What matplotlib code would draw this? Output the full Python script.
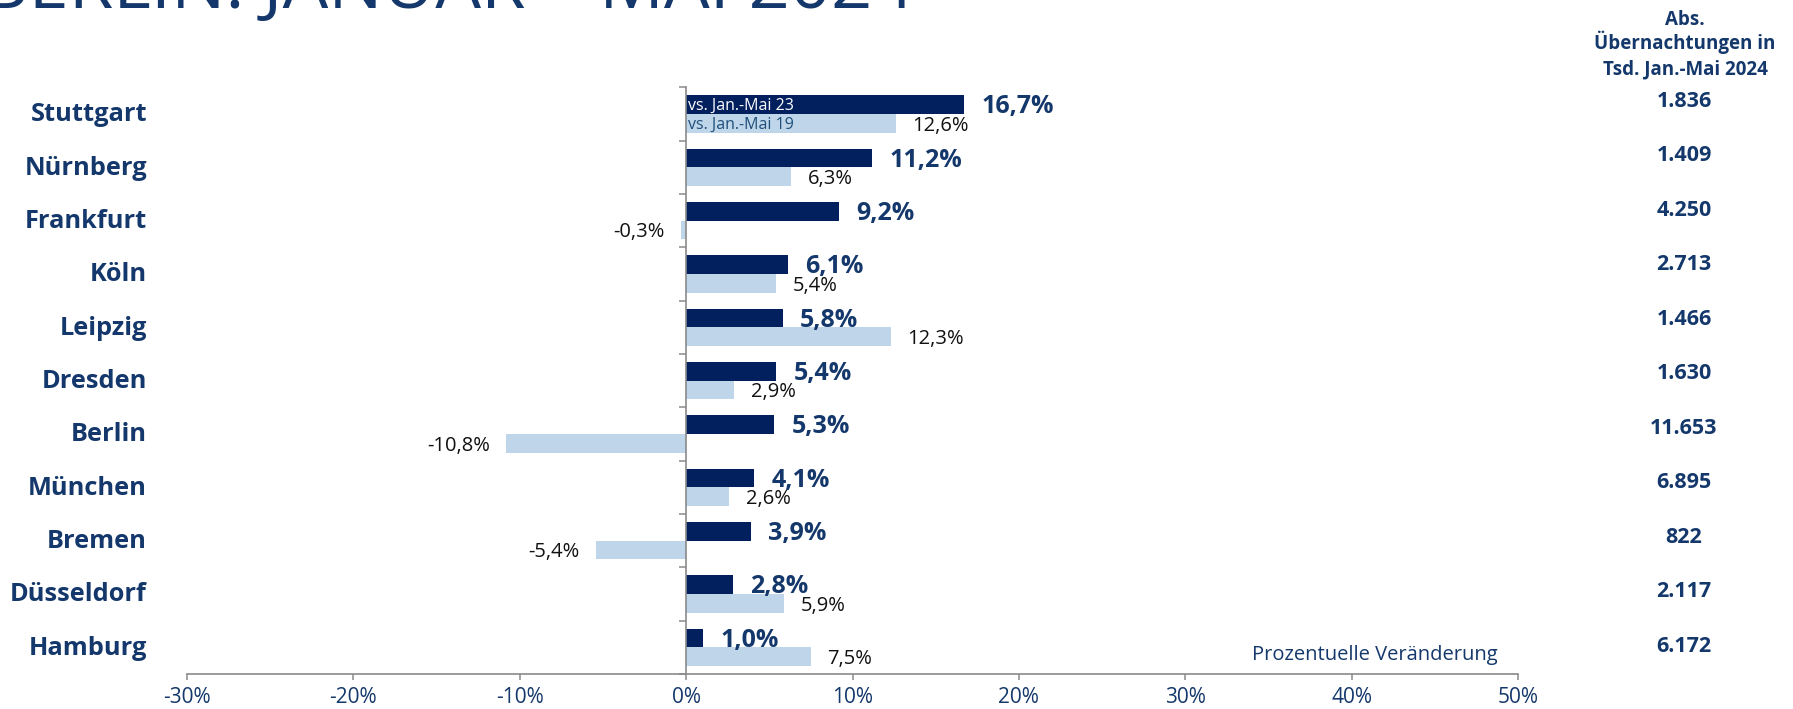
import numpy as np
import matplotlib
matplotlib.use("Agg")
import matplotlib.pyplot as plt
import matplotlib.transforms as mtransforms

plt.rcParams['font.family'] = ['Open Sans', 'DejaVu Sans']

# --- data ---
cities = ['Stuttgart', 'Nürnberg', 'Frankfurt', 'Köln', 'Leipzig', 'Dresden',
          'Berlin', 'München', 'Bremen', 'Düsseldorf', 'Hamburg']
vs_23 = [16.7, 11.2, 9.2, 6.1, 5.8, 5.4, 5.3, 4.1, 3.9, 2.8, 1.0]
vs_19 = [12.6, 6.3, -0.3, 5.4, 12.3, 2.9, -10.8, 2.6, -5.4, 5.9, 7.5]
abs_nights = ['1.836', '1.409', '4.250', '2.713', '1.466', '1.630',
              '11.653', '6.895', '822', '2.117', '6.172']
x_ticks = [-30, -20, -10, 0, 10, 20, 30, 40, 50]

DARK = '#021F5E'
LIGHT = '#BFD6EA'
NAVY = '#14386B'
GREY = '#8A8A8A'

W, H = 1793, 709


def pct(v):
    return f"{v:.1f}%".replace('.', ',')


fig = plt.figure(figsize=(W / 100, H / 100), dpi=100)
ax = fig.add_axes([187 / W, 1 - 674 / H, (1518 - 187) / W, (674 - 87.3) / H])

y = np.arange(len(cities))
h = 0.35
ax.barh(y - h / 2, vs_23, height=h, color=DARK)
ax.barh(y + h / 2, vs_19, height=h, color=LIGHT)

ax.set_xlim(-30, 50)
ax.set_ylim(len(cities) - 0.5, -0.5)

for s in ['top', 'right']:
    ax.spines[s].set_visible(False)
ax.spines['left'].set_position(('data', 0))
for s in ['left', 'bottom']:
    ax.spines[s].set_color(GREY)
    ax.spines[s].set_linewidth(1.2)

ax.set_yticks(np.arange(-0.5, len(cities), 1))
ax.set_yticklabels([])
ax.tick_params(axis='y', length=5, width=1.1, color=GREY, direction='out')
ax.set_xticks(x_ticks)
ax.set_xticklabels([f"{t}%" for t in x_ticks])
ax.tick_params(axis='x', length=4.5, width=1.1, color=GREY, pad=5,
               labelsize=15, labelcolor=NAVY)

# city names on the left
tr_city = mtransforms.blended_transform_factory(fig.transFigure, ax.transData)
for i, c in enumerate(cities):
    ax.annotate(c, xy=(147 / W, i), xycoords=tr_city, xytext=(0, -5.4),
                textcoords='offset points', ha='right', va='baseline',
                fontsize=18.3, fontweight='bold', color=NAVY)

# data labels
for i, (a, b) in enumerate(zip(vs_23, vs_19)):
    ax.annotate(pct(a), xy=(a, i - h / 2), xytext=(12.5, -6.2),
                textcoords='offset points', ha='left', va='baseline',
                fontsize=18, fontweight='bold', color=NAVY)
    if b >= 0:
        ax.annotate(pct(b), xy=(b, i + h / 2), xytext=(12, -5.2),
                    textcoords='offset points', ha='left', va='baseline',
                    fontsize=14.5, color='#111111')
    else:
        ax.annotate(pct(b), xy=(b, i + h / 2), xytext=(-12, -5.2),
                    textcoords='offset points', ha='right', va='baseline',
                    fontsize=14.5, color='#111111')

# series names inside the first bars
ax.annotate('vs. Jan.-Mai 23', xy=(0, -h / 2), xytext=(1, -4),
            textcoords='offset points', ha='left', va='baseline',
            fontsize=11.5, color='white')
ax.annotate('vs. Jan.-Mai 19', xy=(0, h / 2), xytext=(1, -4),
            textcoords='offset points', ha='left', va='baseline',
            fontsize=11.5, color='#1F4E79')

fig.text(1498 / W, 1 - 660 / H, 'Prozentuelle Veränderung', ha='right',
         va='baseline', fontsize=14.5, color=NAVY)

# right column: absolute numbers
hdr = ['Abs.', 'Übernachtungen in', 'Tsd. Jan.-Mai 2024']
for k, line in enumerate(hdr):
    fig.text(1685 / W, 1 - (25 + 24.5 * k) / H, line, ha='center',
             va='baseline', fontsize=13.5, fontweight='bold', color=NAVY)
for i, v in enumerate(abs_nights):
    fig.text(1684 / W, 1 - (106.7 + 54.5 * i) / H, v, ha='center',
             va='baseline', fontsize=15.5, fontweight='bold', color=NAVY)

# title, cut off at the top edge
fig.text(-18 / W, 1 - 8 / H, 'BERLIN: JANUAR – MAI 2024', ha='left',
         va='baseline', fontsize=52, color=NAVY)

fig.savefig('out.png', dpi=100)
